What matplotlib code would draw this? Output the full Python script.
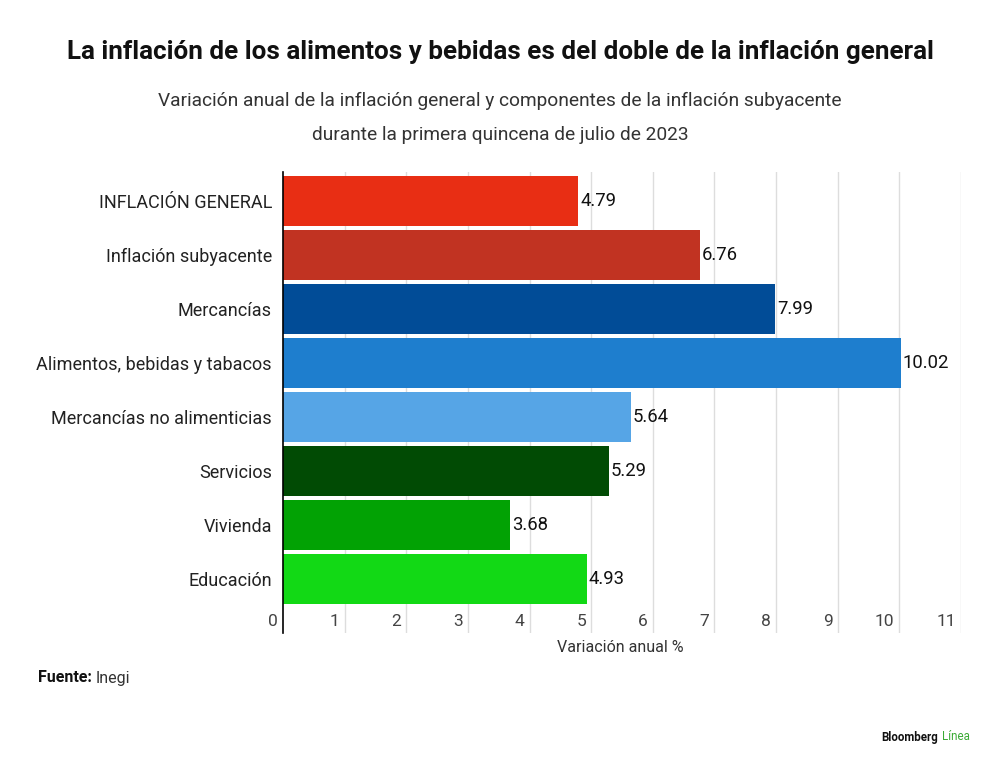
import matplotlib
matplotlib.use("Agg")
import matplotlib.pyplot as plt
import matplotlib.transforms as mtransforms

plt.rcParams['font.family'] = ['Roboto', 'DejaVu Sans']

categorias = ["INFLACIÓN GENERAL", "Inflación subyacente", "Mercancías",
              "Alimentos, bebidas y tabacos", "Mercancías no alimenticias",
              "Servicios", "Vivienda", "Educación"]
valores = [4.79, 6.76, 7.99, 10.02, 5.64, 5.29, 3.68, 4.93]
colores = ["#E82E14", "#C13322", "#014C97", "#1E7ECE", "#56A5E6",
           "#014B04", "#02A204", "#12D915"]
ticks_x = list(range(0, 12))

W, H = 1000, 767
fig = plt.figure(figsize=(W / 100, H / 100), dpi=100)
fig.patch.set_facecolor("white")

def fy(y):
    return 1 - y / H

ax = fig.add_axes([283 / W, fy(633), (961 - 283) / W, (633 - 172) / H])
pos = list(range(len(categorias)))
ax.barh(pos, valores, height=0.925, color=colores, zorder=3)
ax.set_xlim(0, 11)
ax.set_ylim(8.0, -0.537)

for x in ticks_x[1:]:
    ax.axvline(x, color="#dddddd", linewidth=1, zorder=1)

for s in ["top", "right", "bottom"]:
    ax.spines[s].set_visible(False)
ax.spines["left"].set_color("black")
ax.spines["left"].set_linewidth(1.2)
ax.spines["left"].set_zorder(4)

ax.set_xticks([])
ax.set_yticks(pos)
ax.set_yticklabels(categorias, fontsize=13, color="#222222")
ax.tick_params(axis="y", length=0, pad=8)

for p, v in zip(pos, valores):
    ax.text(v + 0.03, p, f"{v:.2f}", va="center", ha="left",
            fontsize=13.3, color="#111111", zorder=5)

trans = mtransforms.blended_transform_factory(ax.transData, ax.transAxes)
for t in ticks_x:
    ax.text(t - 0.08, 0.024, str(t), transform=trans, ha="right", va="center",
            fontsize=12.5, color="#444444")

fig.text(620 / W, fy(647), "Variación anual %", ha="center", va="center",
         fontsize=11.5, color="#333333")

fig.text(0.5, fy(52), "La inflación de los alimentos y bebidas es del doble de la inflación general",
         ha="center", va="center", fontsize=18.7, fontweight="bold", color="#111111")
fig.text(0.5, fy(101), "Variación anual de la inflación general y componentes de la inflación subyacente",
         ha="center", va="center", fontsize=13.8, color="#333333")
fig.text(0.5, fy(135), "durante la primera quincena de julio de 2023",
         ha="center", va="center", fontsize=13.8, color="#333333")

t1 = fig.text(38 / W, fy(678), "Fuente:", ha="left", va="center",
              fontsize=11.5, fontweight="bold", color="#111111")
fig.canvas.draw()
bb = t1.get_window_extent()
fig.text(bb.x1 / W + 0.004, fy(678), "Inegi", ha="left", va="center",
         fontsize=11.5, color="#333333")

t2 = fig.text(970 / W, fy(737), "Línea", ha="right", va="center",
              fontsize=8.3, color="#3BAA35")
fig.canvas.draw()
bb2 = t2.get_window_extent()
fig.text(bb2.x0 / W - 0.004, fy(737), "Bloomberg", ha="right", va="center",
         fontsize=8.3, fontweight="bold", color="#111111")

fig.savefig("out.png", dpi=100, facecolor="white")
